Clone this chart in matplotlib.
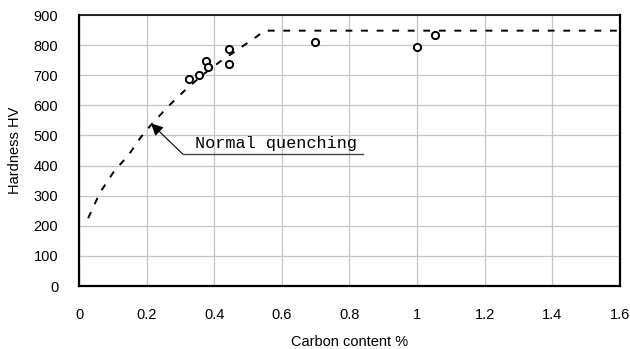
import numpy as np
import matplotlib.pyplot as plt

plt.close('all')
plt.rcParams['font.family'] = ['Liberation Sans', 'DejaVu Sans']

# measured hardness points
carbon = [0.325, 0.355, 0.375, 0.382, 0.445, 0.445, 0.698, 0.999, 1.053]
hardness = [688, 700, 748, 727, 786, 738, 812, 793, 835]

# normal quenching curve
curve_c = [0.027, 0.062, 0.106, 0.145, 0.18, 0.21, 0.26, 0.29, 0.32, 0.37, 0.417, 0.476, 0.515, 0.55, 1.6]
curve_hv = [225, 310, 385, 432, 490, 531, 592, 625, 657, 705, 745, 790, 820, 848, 848]

xticks = [0, 0.2, 0.4, 0.6, 0.8, 1.0, 1.2, 1.4, 1.6]
xticklabels = ['0', '0.2', '0.4', '0.6', '0.8', '1', '1.2', '1.4', '1.6']
yticks = [0, 100, 200, 300, 400, 500, 600, 700, 800, 900]

fig = plt.figure(figsize=(6.3, 3.49), dpi=100)
ax = fig.add_axes([0.1254, 0.1805, 0.8586, 0.7765])

ax.plot(curve_c, curve_hv, color='black', lw=1.4, linestyle=(0, (3.5, 4.5)), zorder=3)
ax.plot(carbon, hardness, 'o', markersize=5.2, markerfacecolor='white',
        markeredgecolor='black', markeredgewidth=1.4, zorder=4)

# annotation with leader line and underline
ax.annotate('', xy=(0.213, 540), xytext=(0.307, 438),
            arrowprops=dict(arrowstyle='-|>', color='black', lw=0.8,
                            mutation_scale=18, shrinkA=0, shrinkB=0), zorder=5)
ax.plot([0.307, 0.84], [438, 438], color='#444444', lw=1.0, zorder=5)
ax.text(0.342, 447, 'Normal quenching', family=['Liberation Mono', 'DejaVu Sans Mono'],
        fontsize=12.2, va='bottom', ha='left', zorder=5)

ax.set_xlim(0, 1.6)
ax.set_ylim(0, 900)
ax.set_xticks(xticks)
ax.set_xticklabels(xticklabels)
ax.set_yticks(yticks)
ax.tick_params(axis='both', length=0, labelsize=10.5)
ax.tick_params(axis='y', pad=15)
ax.tick_params(axis='x', pad=16)
ax.grid(True, color='#c4c4c4', lw=0.9, zorder=1)
for s in ax.spines.values():
    s.set_linewidth(1.6)
ax.spines['top'].set_linewidth(1.2)

ax.set_xlabel('Carbon content %', fontsize=10.5, labelpad=9)
ax.set_ylabel('Hardness HV', fontsize=10.5, labelpad=8)

plt.savefig('out.png', dpi=100)
